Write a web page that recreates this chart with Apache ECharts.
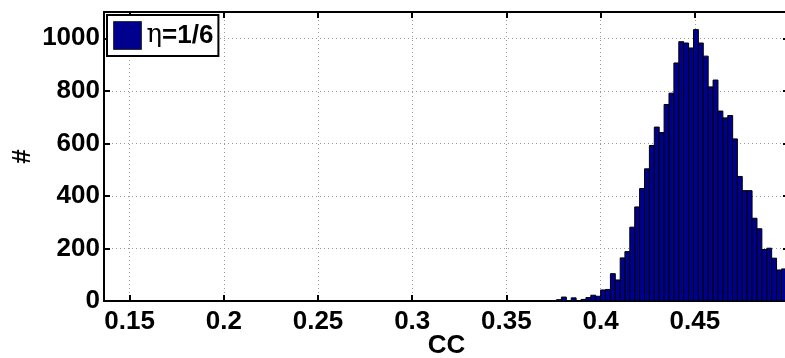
<!DOCTYPE html>
<html>
<head>
<meta charset="utf-8">
<script src="https://cdn.jsdelivr.net/npm/echarts@6/dist/echarts.min.js"></script>
<style>
html,body{margin:0;padding:0;background:#fff;}
#chart{width:785px;height:358px;}
</style>
</head>
<body>
<div id="chart"></div>
<script>
// Histogram data
const seriesName = 'η=1/6';
const binWidth = 0.002596;
const binCenters = [
  0.3779, 0.3805, 0.3831, 0.3857, 0.3883, 0.3909, 0.3935, 0.3961, 0.3987, 0.4013,
  0.4039, 0.4065, 0.4091, 0.4117, 0.4142, 0.4168, 0.4194, 0.4220, 0.4246, 0.4272,
  0.4298, 0.4324, 0.4350, 0.4376, 0.4402, 0.4428, 0.4454, 0.4480, 0.4506, 0.4532,
  0.4558, 0.4584, 0.4610, 0.4636, 0.4662, 0.4688, 0.4713, 0.4739, 0.4765, 0.4791,
  0.4817, 0.4843, 0.4869, 0.4895, 0.4921, 0.4947, 0.4973
];
const counts = [
  5, 15, 0, 12, 2, 6, 13, 22, 18, 42,
  44, 104, 80, 164, 188, 281, 358, 428, 503, 592,
  662, 641, 748, 791, 906, 987, 982, 963, 1033, 982,
  932, 815, 841, 723, 697, 706, 617, 474, 420, 420,
  315, 275, 196, 201, 163, 118, 122
];
const xTicks = [0.15, 0.2, 0.25, 0.3, 0.35, 0.4, 0.45];
const xMin = 0.1364, xMax = 0.5;
const yMin = 0, yMax = 1100, yStep = 200;
const xName = 'CC', yName = '#';

const data = binCenters.map((c, i) => [c, counts[i]]);

const FONT = 'Liberation Sans';
const labelStyle = {color: '#000', fontFamily: FONT, fontWeight: 'bold', fontSize: 26};
const gridLine = {show: true, lineStyle: {color: '#999', type: [1, 3], width: 1}};
const axisLine = {show: true, onZero: false, lineStyle: {color: '#000', width: 2}};
const tick = {show: true, inside: true, length: 6, lineStyle: {color: '#000', width: 2}};

const chart = echarts.init(document.getElementById('chart'), null, {renderer: 'canvas'});
chart.setOption({
  animation: false,
  backgroundColor: '#fff',
  grid: {left: 104, top: 12, width: 685, height: 289, containLabel: false, outerBoundsMode: 'none'},
  legend: {
    show: true,
    left: 107, top: 15,
    orient: 'horizontal',
    padding: [6, 5, 6, 6],
    backgroundColor: '#fff',
    borderColor: '#000',
    borderWidth: 2,
    borderRadius: 0,
    itemWidth: 28, itemHeight: 28,
    data: [{name: seriesName, icon: 'rect', itemStyle: {color: '#00008F', borderColor: '#333', borderWidth: 1}}],
    formatter: () => '{eta|η}{rest|=1/6}',
    textStyle: {
      rich: {
        eta: {fontFamily: 'DejaVu Serif', fontSize: 26, color: '#000'},
        rest: {fontFamily: FONT, fontWeight: 'bold', fontSize: 26, color: '#000'}
      }
    }
  },
  xAxis: [{
    type: 'value', position: 'bottom', min: xMin, max: xMax,
    name: xName, nameLocation: 'middle', nameGap: 32, nameMoveOverlap: false,
    nameTextStyle: labelStyle,
    axisLine: axisLine,
    axisTick: Object.assign({customValues: xTicks}, tick),
    axisLabel: Object.assign({customValues: xTicks, margin: 8, formatter: v => String(v)}, labelStyle),
    splitLine: gridLine
  }, {
    type: 'value', position: 'top', min: xMin, max: xMax,
    axisLine: axisLine,
    axisTick: Object.assign({customValues: xTicks}, tick),
    axisLabel: {show: false, customValues: xTicks},
    splitLine: {show: false}
  }],
  yAxis: [{
    type: 'value', position: 'left', min: yMin, max: yMax, interval: yStep,
    name: yName, nameLocation: 'middle', nameGap: 68, nameMoveOverlap: false,
    nameTextStyle: labelStyle,
    axisLine: axisLine,
    axisTick: tick,
    axisLabel: Object.assign({margin: 4, showMaxLabel: false, formatter: v => (v > 1000 ? '' : String(v))}, labelStyle),
    splitLine: gridLine
  }, {
    type: 'value', position: 'right', min: yMin, max: yMax, interval: yStep,
    axisLine: axisLine,
    axisTick: tick,
    axisLabel: {show: false},
    splitLine: {show: false}
  }],
  series: [{
    name: seriesName,
    type: 'custom',
    clip: true,
    xAxisIndex: 0, yAxisIndex: 0,
    itemStyle: {color: '#00008F', borderColor: '#000', borderWidth: 1},
    encode: {x: 0, y: 1},
    data: data,
    renderItem: function (params, api) {
      const c = api.value(0), v = api.value(1);
      const p0 = api.coord([c - binWidth / 2, v]);
      const p1 = api.coord([c + binWidth / 2, 0]);
      const rect = echarts.graphic.clipRectByRect({
        x: p0[0], y: p0[1], width: p1[0] - p0[0], height: p1[1] - p0[1]
      }, {
        x: params.coordSys.x, y: params.coordSys.y,
        width: params.coordSys.width, height: params.coordSys.height
      });
      if (!rect) return null;
      return {
        type: 'rect',
        shape: rect,
        style: {fill: '#00008F', stroke: '#000', lineWidth: 1}
      };
    }
  }]
});
</script>
</body>
</html>
